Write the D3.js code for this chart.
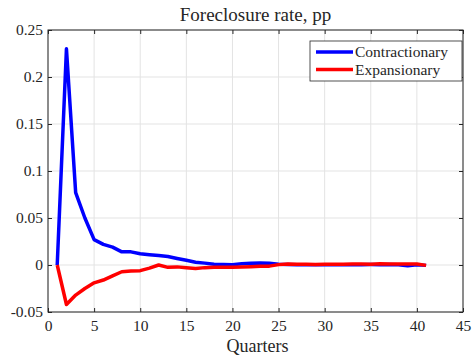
<!DOCTYPE html>
<html>
<head>
<meta charset="utf-8">
<script src="https://cdn.jsdelivr.net/npm/d3@7"></script>
<style>
  body { margin: 0; background: #fff; }
  text { font-family: "Liberation Serif", "DejaVu Serif", serif; fill: #262626; }
</style>
</head>
<body>
<div id="chart"></div>
<script>
// quarters 1..41
var quarters = d3.range(1, 42);
var contractionary = [0, 0.230, 0.077, 0.050, 0.027, 0.022, 0.019, 0.014, 0.014, 0.012,
  0.011, 0.010, 0.009, 0.007, 0.005, 0.003, 0.002, 0.0007, 0.0005, 0.0003,
  0.0014, 0.0018, 0.002, 0.0018, 0.0007, 0.0004, 0.0003, 0.0002, 0.0002, 0.0002,
  0.0002, 0.0003, 0.0003, 0.0003, 0.0004, 0.0003, 0.0004, 0.0002, -0.0008, 0.0003, -0.0004];
var expansionary = [0, -0.042, -0.032, -0.025, -0.019, -0.016, -0.0115, -0.0072, -0.0065, -0.006,
  -0.0033, 0.0, -0.0025, -0.002, -0.003, -0.0038, -0.0028, -0.0025, -0.0025, -0.0024,
  -0.002, -0.0018, -0.0014, -0.0012, 0.0004, 0.001, 0.0008, 0.0007, 0.0005, 0.0007,
  0.0008, 0.0008, 0.001, 0.001, 0.0009, 0.0014, 0.001, 0.0011, 0.001, 0.001, -0.0004];
var xTicks = d3.range(0, 46, 5);
var yTicks = [-0.05, 0, 0.05, 0.1, 0.15, 0.2, 0.25];
var series = [
  { name: 'Contractionary', color: '#0000ff', values: contractionary },
  { name: 'Expansionary', color: '#ff0000', values: expansionary }
];

var margin = {top: 30, right: 12, bottom: 45, left: 48},
    width = 475 - margin.left - margin.right,
    height = 357 - margin.top - margin.bottom;

var x = d3.scaleLinear().domain([0, 45]).range([0, width]);
var y = d3.scaleLinear().domain([-0.05, 0.25]).range([height, 0]);

var svg = d3.select('#chart').append('svg')
    .attr('width', 475).attr('height', 357);
var g = svg.append('g')
    .attr('transform', 'translate(' + margin.left + ',' + margin.top + ')');

// grid
g.append('g').selectAll('line').data(xTicks).enter().append('line')
    .attr('x1', d => x(d)).attr('x2', d => x(d))
    .attr('y1', 0).attr('y2', height)
    .attr('stroke', '#e3e3e3').attr('stroke-width', 1);
g.append('g').selectAll('line').data(yTicks).enter().append('line')
    .attr('x1', 0).attr('x2', width)
    .attr('y1', d => y(d)).attr('y2', d => y(d))
    .attr('stroke', '#e3e3e3').attr('stroke-width', 1);

// series
var line = d3.line()
    .x((d, i) => x(quarters[i]))
    .y(d => y(d));
series.forEach(function(s) {
  g.append('path')
      .datum(s.values)
      .attr('fill', 'none')
      .attr('stroke', s.color)
      .attr('stroke-width', 3.5)
      .attr('stroke-linejoin', 'round')
      .attr('d', line);
});

// axes (box with inward ticks)
function styleAxis(sel) {
  sel.select('.domain').remove();
  sel.selectAll('.tick line').attr('stroke', '#262626');
  sel.selectAll('.tick text').style('font-size', '15.5px').attr('fill', '#262626');
}
g.append('g').attr('transform', 'translate(0,' + height + ')')
    .call(d3.axisBottom(x).tickValues(xTicks).tickSizeInner(-4).tickPadding(8))
    .call(styleAxis);
g.append('g')
    .call(d3.axisLeft(y).tickValues(yTicks).tickSizeInner(-4).tickPadding(5)
      .tickFormat(d => d === 0 ? '0' : String(d).replace('−', '-')))
    .call(styleAxis);
g.append('g')
    .call(d3.axisTop(x).tickValues(xTicks).tickSizeInner(-4).tickFormat(''))
    .call(styleAxis);
g.append('g').attr('transform', 'translate(' + width + ',0)')
    .call(d3.axisRight(y).tickValues(yTicks).tickSizeInner(-4).tickFormat(''))
    .call(styleAxis);
g.append('rect')
    .attr('width', width).attr('height', height)
    .attr('fill', 'none').attr('stroke', '#262626').attr('stroke-width', 1);

// title and label
svg.append('text')
    .attr('x', margin.left + width / 2).attr('y', 21)
    .attr('text-anchor', 'middle').style('font-size', '19px')
    .text('Foreclosure rate, pp');
svg.append('text')
    .attr('x', margin.left + width / 2 + 2).attr('y', 352)
    .attr('text-anchor', 'middle').style('font-size', '18px')
    .text('Quarters');

// legend
var lg = svg.append('g').attr('transform', 'translate(310,41)');
lg.append('rect').attr('width', 152).attr('height', 40)
    .attr('fill', '#fff').attr('stroke', '#262626').attr('stroke-width', 0.8);
series.forEach(function(s, i) {
  var yy = 11 + i * 17.5;
  lg.append('line').attr('x1', 6).attr('x2', 43).attr('y1', yy).attr('y2', yy)
      .attr('stroke', s.color).attr('stroke-width', 3.5);
  lg.append('text').attr('x', 45).attr('y', yy + 5)
      .style('font-size', '15.5px').text(s.name);
});
</script>
</body>
</html>
